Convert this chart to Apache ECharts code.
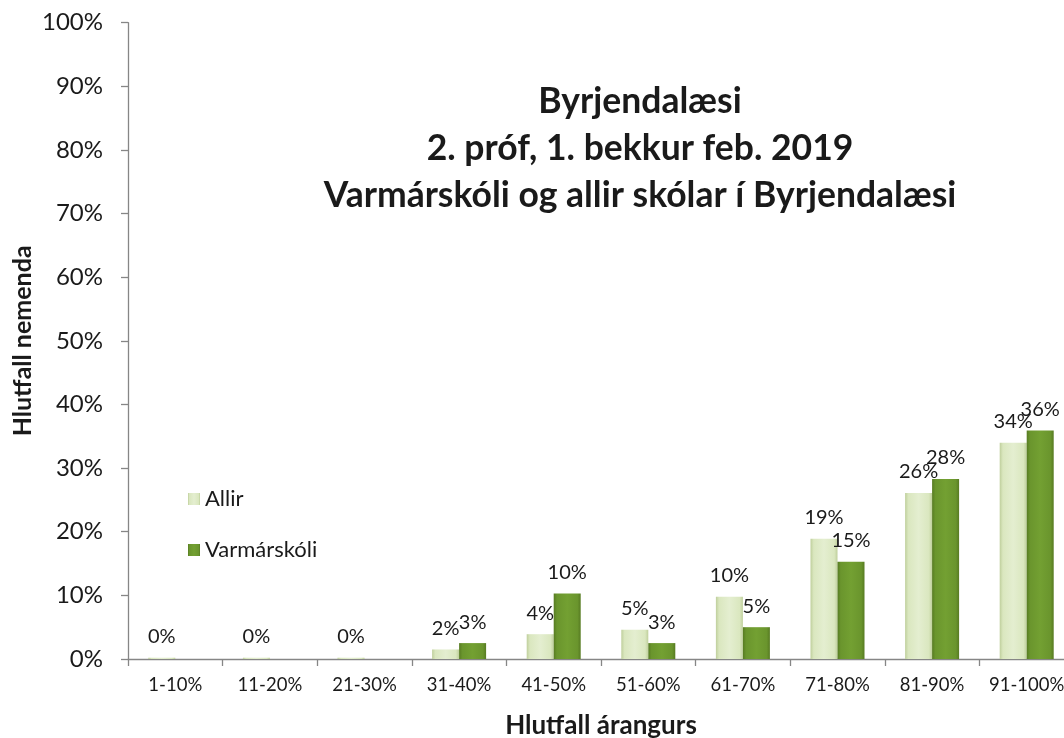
<!DOCTYPE html>
<html>
<head>
<meta charset="utf-8">
<script src="https://cdn.jsdelivr.net/npm/echarts@6/dist/echarts.min.js"></script>
<style>
html,body{margin:0;padding:0;background:#fff;}
#chart{width:1064px;height:738px;}
</style>
</head>
<body>
<div id="chart"></div>
<script>
const categories = ['1-10%','11-20%','21-30%','31-40%','41-50%','51-60%','61-70%','71-80%','81-90%','91-100%'];
const allir = [0.2, 0.2, 0.2, 1.5, 3.9, 4.6, 9.8, 18.9, 26.1, 34.0];
const varmarskoli = [0, 0, 0, 2.5, 10.3, 2.5, 5.0, 15.3, 28.3, 35.9];
const titleLines = ['Byrjendalæsi', '2. próf, 1. bekkur feb. 2019', 'Varmárskóli og allir skólar í Byrjendalæsi'];
const yName = 'Hlutfall nemenda';
const xName = 'Hlutfall árangurs';
const seriesNames = ['Allir', 'Varmárskóli'];

const FONT = 'Lato';
const chart = echarts.init(document.getElementById('chart'), null, {renderer: 'canvas'});

function hGrad(edge, mid, hi) {
  return new echarts.graphic.LinearGradient(0, 0, 1, 0, [
    {offset: 0, color: edge},
    {offset: 0.12, color: mid},
    {offset: 0.5, color: hi},
    {offset: 0.88, color: mid},
    {offset: 1, color: edge}
  ]);
}

const option = {
  backgroundColor: '#ffffff',
  animation: false,
  title: {
    text: titleLines.join('\n'),
    left: 635,
    top: 73,
    textAlign: 'center',
    textStyle: {fontFamily: FONT, fontWeight: 'bold', fontSize: 35.5, lineHeight: 47, color: '#1a1a1a'}
  },
  legend: {
    orient: 'vertical',
    left: 183,
    top: 483,
    itemWidth: 12,
    itemHeight: 12,
    itemGap: 29,
    icon: 'rect',
    textStyle: {fontFamily: FONT, fontSize: 22, color: '#1a1a1a'},
    data: seriesNames
  },
  grid: {left: 128, right: -10, top: 22.7, bottom: 79, containLabel: false, outerBoundsMode: 'none'},
  xAxis: {
    type: 'category',
    data: categories,
    name: xName,
    nameLocation: 'middle',
    nameGap: 54,
    nameMoveOverlap: false,
    nameTextStyle: {fontFamily: FONT, fontWeight: 'bold', fontSize: 26, color: '#1a1a1a'},
    axisLine: {lineStyle: {color: '#868686', width: 1.3}},
    axisTick: {show: true, interval: 0, length: 7, lineStyle: {color: '#868686', width: 1.3}},
    axisLabel: {interval: 0, fontFamily: FONT, fontSize: 18.5, color: '#1a1a1a', margin: 17}
  },
  yAxis: {
    type: 'value',
    min: 0,
    max: 100,
    interval: 10,
    name: yName,
    nameLocation: 'middle',
    nameGap: 93,
    nameMoveOverlap: false,
    nameTextStyle: {fontFamily: FONT, fontWeight: 'bold', fontSize: 25, color: '#1a1a1a'},
    axisLine: {show: true, lineStyle: {color: '#868686', width: 1.3}},
    axisTick: {show: true, length: 7, lineStyle: {color: '#868686', width: 1.3}},
    splitLine: {show: false},
    axisLabel: {fontFamily: FONT, fontSize: 24, color: '#1a1a1a', margin: 25, formatter: '{value}%'}
  },
  series: [
    {
      name: seriesNames[0],
      type: 'bar',
      data: allir,
      barWidth: 27,
      barGap: '0%',
      itemStyle: {color: hGrad('#bfcf9c', '#dae7bf', '#e4eed0')},
      label: {
        show: true, position: 'top', distance: 11,
        fontFamily: FONT, fontSize: 20, color: '#1a1a1a',
        formatter: p => Math.round(p.value) + '%'
      }
    },
    {
      name: seriesNames[1],
      type: 'bar',
      data: varmarskoli,
      barWidth: 27,
      barGap: '0%',
      itemStyle: {color: hGrad('#577b22', '#6a952d', '#73a032')},
      label: {
        show: true, position: 'top', distance: 11,
        fontFamily: FONT, fontSize: 20, color: '#1a1a1a',
        formatter: p => p.value > 0 ? Math.round(p.value) + '%' : ''
      }
    }
  ]
};
chart.setOption(option);
</script>
</body>
</html>
